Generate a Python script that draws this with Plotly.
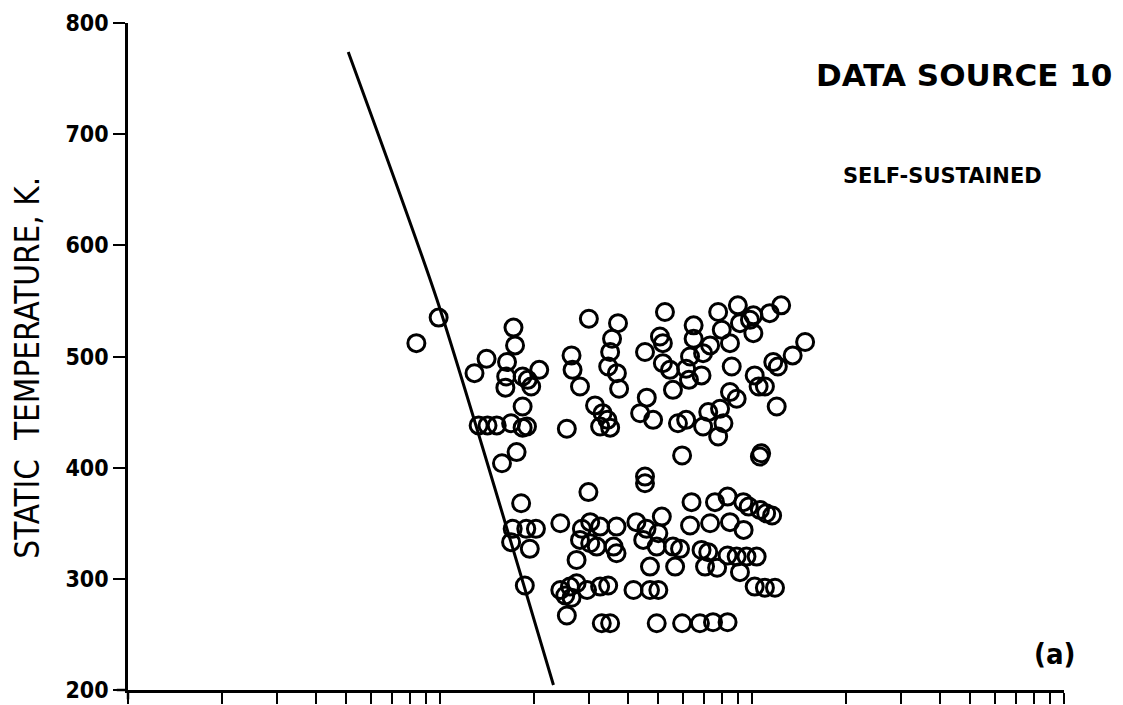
import plotly.graph_objects as go

# ---- data (x axis is logarithmic, unlabelled) ----
x_vals = [8.4, 9.9, 17.2, 17.4, 14.1, 12.9, 16.4, 16.3, 16.2, 18.4, 20.8, 19.6, 19.1, 18.4,
          13.3, 14.2, 15.2, 16.9, 18.4, 19.0, 17.6, 15.8, 26.4, 26.6, 28.1, 25.5, 30.0, 37.2,
          35.6, 35.1, 34.6, 36.9, 37.5, 31.4, 33.2, 34.4, 32.6, 35.1, 52.6, 50.7, 51.8, 45.4,
          51.8, 54.6, 55.8, 46.0, 43.8, 48.2, 57.9, 59.7, 45.4,
          18.2, 29.9, 45.4, 17.1, 18.9, 20.3, 16.9, 19.4, 24.3, 28.5, 30.3, 32.6, 28.1, 30.3,
          31.8, 27.4, 36.8, 36.0, 36.8, 42.6, 45.9, 51.4, 44.8, 49.5, 47.1, 55.8, 56.7,
          18.7, 24.3, 26.1, 27.4, 29.6, 32.6, 34.6, 25.2, 26.4, 25.5, 41.7, 47.1, 50.1,
          33.0, 35.1, 49.5, 59.7, 68.1, 75.0, 83.5,
          64.0, 76.1, 83.5, 93.8, 97.6, 106, 111, 116, 63.3, 73.4, 85.0, 94.0, 50.1,
          58.8, 68.9, 72.4, 83.5, 89.3, 96.0, 103.5, 70.7, 77.3, 91.5, 102, 110, 118.5,
          77.9, 90.1, 101, 114, 124, 65.0, 80.0, 91.5, 98.5, 101, 65.0, 73.4, 85.0, 63.3,
          69.7, 61.5, 62.8, 68.9, 86.1, 102, 105, 110, 85.0, 89.3, 117, 121, 135, 148,
          120, 61.5, 72.4, 79.0, 69.7, 81.0, 77.9, 106, 107]
y_vals = [512, 535, 526, 510, 498, 485, 495, 482, 472, 482, 488, 473, 479, 455,
          438, 438, 438, 440, 436, 437, 414, 404, 501, 488, 473, 435, 534, 530,
          516, 504, 491, 485, 471, 456, 449, 443, 437, 436, 540, 518, 512, 504,
          494, 488, 470, 463, 449, 443, 440, 411, 392,
          368, 378, 386, 345, 345, 345, 333, 327, 350, 345, 351, 347, 335, 332,
          329, 317, 347, 329, 323, 351, 345, 356, 335, 329, 311, 329, 311,
          294, 290, 293, 296, 290, 293, 294, 285, 283, 267, 290, 290, 290,
          260, 260, 260, 260, 260, 261, 261,
          369, 369, 374, 369, 365, 362, 359, 357, 348, 350, 351, 344, 341,
          327, 326, 324, 321, 320, 320, 320, 311, 310, 306, 293, 292, 292,
          540, 546, 537, 539, 546, 528, 524, 530, 533, 521, 516, 510, 512, 500,
          503, 489, 479, 483, 491, 483, 473, 473, 468, 462, 495, 491, 501, 513,
          455, 443, 450, 453, 437, 440, 428, 410, 413]

# boundary line
line_x = [5.08, 9.78, 23.1]
line_y = [774, 551, 204.5]

y_ticks = [200, 300, 400, 500, 600, 700, 800]
y_tick_text = ["200", "300", "400", "500", "600", "700", "800"]
x_ticks = [m * 10 ** d for d in range(3) for m in range(1, 10)] + [1000]

fig = go.Figure()
fig.add_trace(go.Scatter(
    x=line_x, y=line_y, mode="lines",
    line=dict(color="black", width=3, shape="spline", smoothing=0.6),
    hoverinfo="skip", showlegend=False))
fig.add_trace(go.Scatter(
    x=x_vals, y=y_vals, mode="markers",
    marker=dict(symbol="circle-open", size=17, color="black", line=dict(width=3)),
    showlegend=False))

# small overshoot of the axes at the origin (cross-shaped corner)
fig.add_shape(type="line", xref="paper", yref="paper", x0=-0.012, x1=0, y0=0, y1=0,
              line=dict(color="black", width=2.5))
fig.add_shape(type="line", xref="paper", yref="paper", x0=0, x1=0, y0=-0.014, y1=0,
              line=dict(color="black", width=2.5))

fig.update_layout(
    width=1123, height=705,
    margin=dict(l=120, r=67, t=15, b=23),
    paper_bgcolor="white", plot_bgcolor="white",
    showlegend=False,
    xaxis=dict(type="log", range=[0, 3], showline=True, linecolor="black", linewidth=2.5,
               ticks="outside", ticklen=11, tickwidth=2, tickcolor="black",
               tickvals=x_ticks, showticklabels=False, showgrid=False, zeroline=False,
               automargin=False),
    yaxis=dict(range=[200, 800], showline=True, linecolor="black", linewidth=2.5,
               ticks="outside", ticklen=12, tickwidth=2, tickcolor="black",
               tickvals=y_ticks, ticktext=y_tick_text, showgrid=False, zeroline=False,
               automargin=False,
               tickfont=dict(family="Liberation Sans Narrow, DejaVu Sans Condensed", size=23,
                             color="black", weight="bold")),
    annotations=[
        dict(text="STATIC  TEMPERATURE, K.", xref="paper", yref="paper",
             x=-0.107, y=0.483, xanchor="center", yanchor="middle",
             textangle=-90, showarrow=False,
             font=dict(family="Liberation Sans Narrow, DejaVu Sans Condensed, sans-serif",
                       size=33, color="black")),
        dict(text="<b>DATA SOURCE 10</b>", xref="paper", yref="paper",
             x=1.0535, y=0.922, xanchor="right", yanchor="middle", showarrow=False,
             font=dict(family="DejaVu Sans", size=31, color="black")),
        dict(text="<b>SELF-SUSTAINED</b>", xref="paper", yref="paper",
             x=0.870, y=0.770, xanchor="center", yanchor="middle", showarrow=False,
             font=dict(family="DejaVu Sans", size=21, color="black")),
        dict(text="<b>(a)</b>", xref="paper", yref="paper",
             x=0.990, y=0.054, xanchor="center", yanchor="middle", showarrow=False,
             font=dict(family="DejaVu Sans Condensed, DejaVu Sans", size=29, color="black")),
    ],
)

fig.write_html("out.html")
